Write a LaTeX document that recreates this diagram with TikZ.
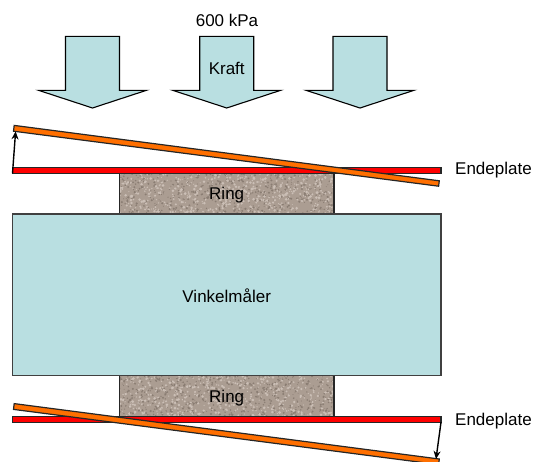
\documentclass[tikz,border=0pt]{standalone}
\usepackage{fontspec}
\setmainfont{Liberation Sans}
\usetikzlibrary{arrows.meta}
\definecolor{paleblue}{HTML}{B9DFE1}
\definecolor{ringbase}{HTML}{AB9D92}
\definecolor{ringlight}{HTML}{CBBFB6}
\definecolor{ringdark}{HTML}{8A7D73}
\definecolor{plateorange}{HTML}{FF6F00}
\tikzset{
  bluebox/.style={draw=black!75,line width=1.3pt,fill=paleblue},
  downarrow/.style={draw=black,line width=1.1pt,fill=paleblue,line join=miter},
  ringbox/.style={draw=black!85,line width=1.1pt},
  redplate/.style={draw=black!85,line width=1.2pt,fill=red},
  tiltplate/.style={draw=black!85,line width=1.2pt,fill=plateorange},
  gap/.style={-{Stealth[length=8pt,width=7pt]},draw=black,line width=1.4pt},
  lbl/.style={font=\fontsize{17}{20}\selectfont,text=black,inner sep=0pt},
  endlbl/.style={font=\fontsize{17}{20}\selectfont,text=black,inner sep=0pt,anchor=west}
}
\newcommand{\granite}[4]{%
  \begin{scope}
    \clip (#1,#2) rectangle (#3,#4);
    \fill[ringbase] (#1,#2) rectangle (#3,#4);
    \foreach \i in {1,...,1100}{%
      \pgfmathsetmacro{\px}{#1+rnd*(#3-#1)}%
      \pgfmathsetmacro{\py}{#2+rnd*(#4-#2)}%
      \pgfmathsetmacro{\pr}{0.5+rnd*1.0}%
      \pgfmathsetmacro{\pc}{rnd>0.5?1:0}%
      \ifdim\pc pt>0.5pt
        \fill[ringlight] (\px,\py) circle[radius=\pr];
      \else
        \fill[ringdark] (\px,\py) circle[radius=\pr*0.8];
      \fi
    }
  \end{scope}
}
\newcommand{\forcearrow}[1]{%
  \draw[downarrow] (#1-27,36.3) -- (#1+27,36.3) -- (#1+27,90.3) -- (#1+54,90.3)
    -- (#1,108) -- (#1-54,90.3) -- (#1-27,90.3) -- cycle;
}
\begin{document}
\begin{tikzpicture}[x=1pt,y=-1pt]
\pgfmathsetseed{4217}
\useasboundingbox (0,0) rectangle (533,461);
\clip (0,0) rectangle (533,461);
% force arrows
\forcearrow{92.5}
\forcearrow{226.7}
\forcearrow{360}
\node[lbl] (force) at (227,20.5) {600 kPa};
\node[lbl] (kraft) at (226.7,68.5) {Kraft};
% rings
\granite{119.5}{173}{334}{214}
\granite{119.5}{375}{334}{416.5}
\draw[ringbox] (119.5,173) rectangle (334,214);
\draw[ringbox] (119.5,375) rectangle (334,416.5);
\node[lbl] (ringa) at (226.7,195) {Ring};
\node[lbl] (ringb) at (226.7,398) {Ring};
% body
\draw[bluebox] (12.5,214) rectangle (441,375.5);
\node[lbl] (body) at (226.7,295.5) {Vinkelmåler};
% upper plates
\draw[redplate] (12.5,167.5) rectangle (441,173.3);
\draw[tiltplate] (14.2,125.4) -- (439.3,180.8) -- (438.6,186.2) -- (13.5,131.2) -- cycle;
% lower plates
\draw[redplate] (12.5,416.5) rectangle (441,422.2);
\draw[tiltplate] (14.2,403.6) -- (439.3,459) -- (438.6,464.6) -- (13.5,409.4) -- cycle;
% gap arrows
\coordinate (ua) at (12.5,173.3);
\coordinate (ub) at (15.6,131.4);
\coordinate (la) at (441,422.2);
\coordinate (lb) at (436,459);
\draw[gap] (ua) -- (ub);
\draw[gap] (la) -- (lb);
% labels
\node[endlbl] (enda) at (455,170) {Endeplate};
\node[endlbl] (endb) at (455,421.5) {Endeplate};
\end{tikzpicture}
\end{document}
